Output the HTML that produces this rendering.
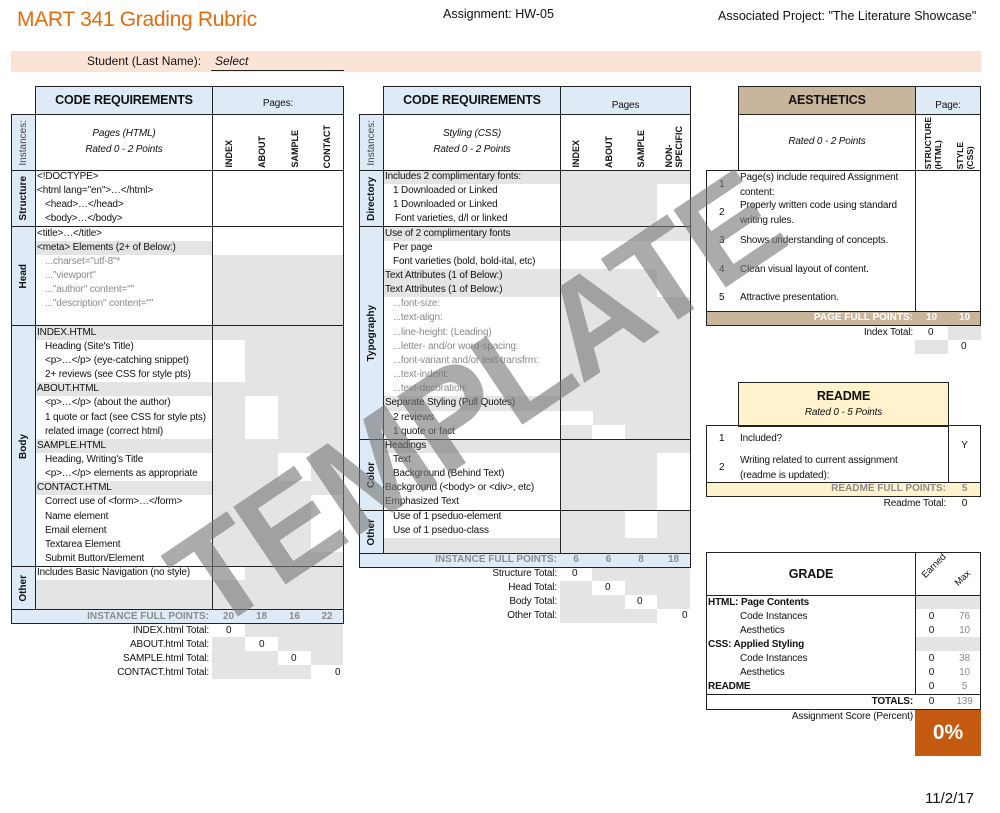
<!DOCTYPE html>
<html><head><meta charset="utf-8">
<style>
*{margin:0;padding:0;box-sizing:border-box}
body{width:1000px;height:813px;position:relative;background:#fff;font-family:"Liberation Sans",sans-serif;color:#111;overflow:hidden}
div{position:absolute}
.t{font-size:10px;line-height:14px;white-space:nowrap;letter-spacing:-0.15px}
.gr{color:#8a8a8a}
.g{background:#e4e4e4}
.w{background:#fff}
.bx{border:1.6px solid #222}
.lb{background:#deebf7}
.vt{display:flex;align-items:center;justify-content:center}
.vt span{writing-mode:vertical-rl;transform:rotate(180deg);font-size:10px;font-weight:bold;white-space:nowrap}
.vh{display:flex;align-items:flex-end;justify-content:center}
.vh span{writing-mode:vertical-rl;transform:rotate(180deg);font-size:9px;font-weight:bold;white-space:nowrap;line-height:10px}
.c{text-align:center}
.r{text-align:right}
.b{font-weight:bold}
.i{font-style:italic}
.fp{font-size:10px;line-height:14px;color:#8c8c8c;font-weight:bold}
</style></head><body>

<!-- Header -->
<div style="left:17px;top:8px;font-size:21px;color:#e46c0a;letter-spacing:-0.3px">MART 341 Grading Rubric</div>
<div style="left:443px;top:7px;font-size:12.5px">Assignment: HW-05</div>
<div style="left:718px;top:9px;font-size:12.5px">Associated Project: "The Literature Showcase"</div>
<div style="left:11px;top:51px;width:970px;height:21px;background:#fbe4d6"></div>
<div style="left:87px;top:54px;font-size:12px">Student (Last Name):</div>
<div style="left:211px;top:54px;width:133px;height:17px;border-bottom:1.5px solid #222;font-size:12px;font-style:italic;padding-left:4px">Select</div>

<!-- ===== LEFT TABLE ===== -->
<div class="g" style="left:35px;top:241px;width:177px;height:14px"></div>
<div class="g" style="left:35px;top:326px;width:177px;height:14px"></div>
<div class="g" style="left:35px;top:382px;width:177px;height:14px"></div>
<div class="g" style="left:35px;top:439px;width:177px;height:14px"></div>
<div class="g" style="left:35px;top:481px;width:177px;height:14px"></div>
<div class="g" style="left:35px;top:580px;width:177px;height:29px"></div>
<div class="g" style="left:212px;top:255px;width:131px;height:71px"></div>
<div class="g" style="left:212px;top:326px;width:131px;height:283px"></div>
<div class="w" style="left:212px;top:340px;width:33px;height:42px"></div>
<div class="w" style="left:245px;top:396px;width:33px;height:43px"></div>
<div class="w" style="left:278px;top:453px;width:33px;height:28px"></div>
<div class="w" style="left:311px;top:495px;width:32px;height:57px"></div>
<div class="w" style="left:212px;top:566px;width:33px;height:14px"></div>
<div class="g" style="left:245px;top:623px;width:98px;height:14px"></div>
<div class="g" style="left:212px;top:637px;width:33px;height:14px"></div>
<div class="g" style="left:278px;top:637px;width:65px;height:14px"></div>
<div class="g" style="left:212px;top:651px;width:66px;height:14px"></div>
<div class="g" style="left:311px;top:651px;width:32px;height:14px"></div>
<div class="g" style="left:212px;top:665px;width:99px;height:14px"></div>

<div class="bx lb" style="left:35px;top:86px;width:178px;height:29px"></div>
<div class="t b c" style="left:35px;top:92px;width:178px;font-size:12.5px;line-height:16px">CODE REQUIREMENTS</div>
<div class="bx lb" style="left:212px;top:86px;width:132px;height:29px"></div>
<div class="t c" style="left:212px;top:97px;width:132px">Pages:</div>
<div class="bx lb vt" style="left:11px;top:114px;width:25px;height:57px"><span style="font-weight:normal;color:#444">Instances:</span></div>
<div class="bx" style="left:35px;top:114px;width:178px;height:57px"></div>
<div class="t i c" style="left:35px;top:127px;width:178px">Pages (HTML)</div>
<div class="t i c" style="left:35px;top:143px;width:178px">Rated 0 - 2 Points</div>
<div class="bx" style="left:212px;top:114px;width:132px;height:57px"></div>
<div class="vh" style="left:212px;top:118px;width:33px;height:50px"><span>INDEX</span></div>
<div class="vh" style="left:245px;top:118px;width:33px;height:50px"><span>ABOUT</span></div>
<div class="vh" style="left:278px;top:118px;width:33px;height:50px"><span>SAMPLE</span></div>
<div class="vh" style="left:311px;top:118px;width:32px;height:50px"><span>CONTACT</span></div>

<div class="bx lb vt" style="left:11px;top:170px;width:25px;height:57px"><span>Structure</span></div>
<div class="bx" style="left:35px;top:170px;width:178px;height:57px"></div>
<div class="bx" style="left:212px;top:170px;width:132px;height:57px"></div>
<div class="bx lb vt" style="left:11px;top:226px;width:25px;height:100px"><span>Head</span></div>
<div class="bx" style="left:35px;top:226px;width:178px;height:100px"></div>
<div class="bx" style="left:212px;top:226px;width:132px;height:100px"></div>
<div class="bx lb vt" style="left:11px;top:325px;width:25px;height:242px"><span>Body</span></div>
<div class="bx" style="left:35px;top:325px;width:178px;height:242px"></div>
<div class="bx" style="left:212px;top:325px;width:132px;height:242px"></div>
<div class="bx lb vt" style="left:11px;top:566px;width:25px;height:44px"><span>Other</span></div>
<div class="bx" style="left:35px;top:566px;width:178px;height:44px"></div>
<div class="bx" style="left:212px;top:566px;width:132px;height:44px"></div>
<div class="bx lb" style="left:11px;top:609px;width:333px;height:15px"></div>

<div class="t" style="left:37px;top:170px">&lt;!DOCTYPE&gt;</div>
<div class="t" style="left:37px;top:184px">&lt;html lang="en"&gt;…&lt;/html&gt;</div>
<div class="t" style="left:45px;top:198px">&lt;head&gt;…&lt;/head&gt;</div>
<div class="t" style="left:45px;top:212px">&lt;body&gt;…&lt;/body&gt;</div>
<div class="t" style="left:37px;top:227px">&lt;title&gt;…&lt;/title&gt;</div>
<div class="t" style="left:37px;top:241px">&lt;meta&gt; Elements (2+ of Below:)</div>
<div class="t gr" style="left:45px;top:255px">...charset="utf-8"*</div>
<div class="t gr" style="left:45px;top:269px">..."viewport"</div>
<div class="t gr" style="left:45px;top:283px">..."author" content=""</div>
<div class="t gr" style="left:45px;top:297px">..."description" content=""</div>
<div class="t" style="left:37px;top:326px">INDEX.HTML</div>
<div class="t" style="left:45px;top:340px">Heading (Site's Title)</div>
<div class="t" style="left:45px;top:354px">&lt;p&gt;…&lt;/p&gt; (eye-catching snippet)</div>
<div class="t" style="left:45px;top:368px">2+ reviews (see CSS for style pts)</div>
<div class="t" style="left:37px;top:382px">ABOUT.HTML</div>
<div class="t" style="left:45px;top:396px">&lt;p&gt;…&lt;/p&gt; (about the author)</div>
<div class="t" style="left:45px;top:411px">1 quote or fact (see CSS for style pts)</div>
<div class="t" style="left:45px;top:425px">related image (correct html)</div>
<div class="t" style="left:37px;top:439px">SAMPLE.HTML</div>
<div class="t" style="left:45px;top:453px">Heading, Writing's Title</div>
<div class="t" style="left:45px;top:467px">&lt;p&gt;…&lt;/p&gt; elements as appropriate</div>
<div class="t" style="left:37px;top:481px">CONTACT.HTML</div>
<div class="t" style="left:45px;top:495px">Correct use of &lt;form&gt;…&lt;/form&gt;</div>
<div class="t" style="left:45px;top:510px">Name element</div>
<div class="t" style="left:45px;top:524px">Email element</div>
<div class="t" style="left:45px;top:538px">Textarea Element</div>
<div class="t" style="left:45px;top:552px">Submit Button/Element</div>
<div class="t" style="left:37px;top:566px">Includes Basic Navigation (no style)</div>
<div class="fp r" style="left:35px;top:610px;width:174px">INSTANCE FULL POINTS:</div>
<div class="fp c" style="left:212px;top:610px;width:33px">20</div>
<div class="fp c" style="left:245px;top:610px;width:33px">18</div>
<div class="fp c" style="left:278px;top:610px;width:33px">16</div>
<div class="fp c" style="left:311px;top:610px;width:32px">22</div>
<div class="t r" style="left:35px;top:624px;width:174px">INDEX.html Total:</div>
<div class="t r" style="left:35px;top:638px;width:174px">ABOUT.html Total:</div>
<div class="t r" style="left:35px;top:652px;width:174px">SAMPLE.html Total:</div>
<div class="t r" style="left:35px;top:666px;width:174px">CONTACT.html Total:</div>
<div class="t" style="left:226px;top:624px">0</div>
<div class="t" style="left:259px;top:638px">0</div>
<div class="t" style="left:291px;top:652px">0</div>
<div class="t" style="left:335px;top:666px">0</div>

<!-- ===== MIDDLE TABLE ===== -->
<div class="g" style="left:383px;top:170px;width:177px;height:14px"></div>
<div class="g" style="left:383px;top:227px;width:177px;height:14px"></div>
<div class="g" style="left:383px;top:269px;width:177px;height:28px"></div>
<div class="g" style="left:383px;top:396px;width:177px;height:15px"></div>
<div class="g" style="left:383px;top:439px;width:177px;height:14px"></div>
<div class="g" style="left:383px;top:538px;width:177px;height:15px"></div>
<div class="g" style="left:560px;top:170px;width:130px;height:383px"></div>
<div class="w" style="left:657px;top:184px;width:33px;height:43px"></div>
<div class="w" style="left:560px;top:241px;width:130px;height:28px"></div>
<div class="w" style="left:657px;top:269px;width:33px;height:28px"></div>
<div class="w" style="left:560px;top:411px;width:33px;height:14px"></div>
<div class="w" style="left:592px;top:425px;width:33px;height:14px"></div>
<div class="w" style="left:657px;top:453px;width:33px;height:57px"></div>
<div class="w" style="left:625px;top:510px;width:32px;height:28px"></div>
<div class="g" style="left:592px;top:567px;width:98px;height:14px"></div>
<div class="g" style="left:560px;top:581px;width:32px;height:14px"></div>
<div class="g" style="left:625px;top:581px;width:65px;height:14px"></div>
<div class="g" style="left:560px;top:595px;width:65px;height:14px"></div>
<div class="g" style="left:657px;top:595px;width:33px;height:14px"></div>
<div class="g" style="left:560px;top:609px;width:97px;height:14px"></div>

<div class="bx lb" style="left:383px;top:86px;width:178px;height:29px"></div>
<div class="t b c" style="left:383px;top:92px;width:178px;font-size:12.5px;line-height:16px">CODE REQUIREMENTS</div>
<div class="bx lb" style="left:560px;top:86px;width:131px;height:29px"></div>
<div class="t c" style="left:560px;top:99px;width:131px">Pages</div>
<div class="bx lb vt" style="left:359px;top:114px;width:25px;height:57px"><span style="font-weight:normal;color:#444">Instances:</span></div>
<div class="bx" style="left:383px;top:114px;width:178px;height:57px"></div>
<div class="t i c" style="left:383px;top:127px;width:178px">Styling (CSS)</div>
<div class="t i c" style="left:383px;top:143px;width:178px">Rated 0 - 2 Points</div>
<div class="bx" style="left:560px;top:114px;width:131px;height:57px"></div>
<div class="vh" style="left:560px;top:118px;width:32px;height:50px"><span>INDEX</span></div>
<div class="vh" style="left:592px;top:118px;width:33px;height:50px"><span>ABOUT</span></div>
<div class="vh" style="left:625px;top:118px;width:32px;height:50px"><span>SAMPLE</span></div>
<div class="vh" style="left:657px;top:118px;width:33px;height:50px"><span style="text-align:left">NON-<br>SPECIFIC</span></div>

<div class="bx lb vt" style="left:359px;top:170px;width:25px;height:57px"><span>Directory</span></div>
<div class="bx" style="left:383px;top:170px;width:178px;height:57px"></div>
<div class="bx" style="left:560px;top:170px;width:131px;height:57px"></div>
<div class="bx lb vt" style="left:359px;top:226px;width:25px;height:214px"><span>Typography</span></div>
<div class="bx" style="left:383px;top:226px;width:178px;height:214px"></div>
<div class="bx" style="left:560px;top:226px;width:131px;height:214px"></div>
<div class="bx lb vt" style="left:359px;top:439px;width:25px;height:72px"><span>Color</span></div>
<div class="bx" style="left:383px;top:439px;width:178px;height:72px"></div>
<div class="bx" style="left:560px;top:439px;width:131px;height:72px"></div>
<div class="bx lb vt" style="left:359px;top:510px;width:25px;height:44px"><span>Other</span></div>
<div class="bx" style="left:383px;top:510px;width:178px;height:44px"></div>
<div class="bx" style="left:560px;top:510px;width:131px;height:44px"></div>
<div class="bx lb" style="left:359px;top:553px;width:332px;height:15px"></div>

<div class="t" style="left:385px;top:170px">Includes 2 complimentary fonts:</div>
<div class="t" style="left:393px;top:184px">1 Downloaded or Linked</div>
<div class="t" style="left:393px;top:198px">1 Downloaded or Linked</div>
<div class="t" style="left:395px;top:212px">Font varieties, d/l or linked</div>
<div class="t" style="left:385px;top:227px">Use of 2 complimentary fonts</div>
<div class="t" style="left:393px;top:241px">Per page</div>
<div class="t" style="left:393px;top:255px">Font varieties (bold, bold-ital, etc)</div>
<div class="t" style="left:385px;top:269px">Text Attributes (1 of Below:)</div>
<div class="t" style="left:385px;top:283px">Text Attributes (1 of Below:)</div>
<div class="t gr" style="left:393px;top:297px">...font-size:</div>
<div class="t gr" style="left:393px;top:311px">...text-align:</div>
<div class="t gr" style="left:393px;top:326px">...line-height: (Leading)</div>
<div class="t gr" style="left:393px;top:340px">...letter- and/or word-spacing:</div>
<div class="t gr" style="left:393px;top:354px">...font-variant and/or text-transfrm:</div>
<div class="t gr" style="left:393px;top:368px">...text-indent:</div>
<div class="t gr" style="left:393px;top:382px">...text-decoration:</div>
<div class="t" style="left:385px;top:396px">Separate Styling (Pull Quotes)</div>
<div class="t" style="left:393px;top:411px">2 reviews</div>
<div class="t" style="left:393px;top:425px">1 quote or fact</div>
<div class="t" style="left:385px;top:439px">Headings</div>
<div class="t" style="left:393px;top:453px">Text</div>
<div class="t" style="left:393px;top:467px">Background (Behind Text)</div>
<div class="t" style="left:385px;top:481px">Background (&lt;body&gt; or &lt;div&gt;, etc)</div>
<div class="t" style="left:385px;top:495px">Emphasized Text</div>
<div class="t" style="left:393px;top:510px">Use of 1 pseduo-element</div>
<div class="t" style="left:393px;top:524px">Use of 1 pseduo-class</div>
<div class="fp r" style="left:383px;top:553px;width:174px">INSTANCE FULL POINTS:</div>
<div class="fp c" style="left:560px;top:553px;width:32px">6</div>
<div class="fp c" style="left:592px;top:553px;width:33px">6</div>
<div class="fp c" style="left:625px;top:553px;width:32px">8</div>
<div class="fp c" style="left:657px;top:553px;width:33px">18</div>
<div class="t r" style="left:383px;top:567px;width:174px">Structure Total:</div>
<div class="t r" style="left:383px;top:581px;width:174px">Head Total:</div>
<div class="t r" style="left:383px;top:595px;width:174px">Body Total:</div>
<div class="t r" style="left:383px;top:609px;width:174px">Other Total:</div>
<div class="t" style="left:572px;top:567px">0</div>
<div class="t" style="left:605px;top:581px">0</div>
<div class="t" style="left:637px;top:595px">0</div>
<div class="t" style="left:682px;top:609px">0</div>

<!-- ===== AESTHETICS ===== -->
<div class="bx" style="left:738px;top:86px;width:178px;height:29px;background:#c9b59c"></div>
<div class="t b c" style="left:738px;top:92px;width:178px;font-size:12.5px;line-height:16px">AESTHETICS</div>
<div class="bx lb" style="left:915px;top:86px;width:66px;height:29px"></div>
<div class="t c" style="left:915px;top:99px;width:66px">Page:</div>
<div class="bx" style="left:738px;top:114px;width:178px;height:57px"></div>
<div class="t i c" style="left:738px;top:135px;width:178px">Rated 0 - 2 Points</div>
<div class="bx" style="left:915px;top:114px;width:66px;height:57px"></div>
<div class="vh" style="left:916px;top:116px;width:33px;height:53px"><span style="font-size:8.5px;text-align:left">STRUCTURE<br>(HTML)</span></div>
<div class="vh" style="left:948px;top:116px;width:33px;height:53px"><span style="font-size:8.5px;text-align:left">STYLE<br>(CSS)</span></div>
<div class="bx" style="left:706px;top:170px;width:210px;height:142px"></div>
<div class="bx" style="left:915px;top:170px;width:66px;height:142px"></div>
<div class="t" style="left:719px;top:178px">1</div>
<div class="t" style="left:740px;top:171px">Page(s) include required Assignment</div>
<div class="t" style="left:740px;top:186px">content:</div>
<div class="t" style="left:719px;top:206px">2</div>
<div class="t" style="left:740px;top:199px">Properly written code using standard</div>
<div class="t" style="left:740px;top:214px">writing rules.</div>
<div class="t" style="left:719px;top:234px">3</div>
<div class="t" style="left:740px;top:234px">Shows understanding of concepts.</div>
<div class="t" style="left:719px;top:263px">4</div>
<div class="t" style="left:740px;top:263px">Clean visual layout of content.</div>
<div class="t" style="left:719px;top:291px">5</div>
<div class="t" style="left:740px;top:291px">Attractive presentation.</div>
<div class="bx" style="left:706px;top:311px;width:275px;height:15px;background:#c9b59c"></div>
<div class="fp r" style="left:706px;top:311px;width:207px;color:#fff">PAGE FULL POINTS:</div>
<div class="fp c" style="left:915px;top:311px;width:33px;color:#fff">10</div>
<div class="fp c" style="left:948px;top:311px;width:33px;color:#fff">10</div>
<div class="t r" style="left:740px;top:326px;width:173px">Index Total:</div>
<div class="t" style="left:928px;top:326px">0</div>
<div class="g" style="left:948px;top:326px;width:33px;height:14px"></div>
<div class="g" style="left:915px;top:340px;width:33px;height:14px"></div>
<div class="t" style="left:961px;top:340px">0</div>

<!-- ===== README ===== -->
<div class="bx" style="left:738px;top:382px;width:211px;height:45px;background:#fff2cc"></div>
<div class="t b c" style="left:738px;top:388px;width:211px;font-size:12.5px;line-height:16px">README</div>
<div class="t i c" style="left:738px;top:406px;width:211px">Rated 0 - 5 Points</div>
<div class="bx" style="left:706px;top:425px;width:243px;height:58px"></div>
<div class="bx" style="left:948px;top:425px;width:33px;height:58px"></div>
<div class="t" style="left:719px;top:432px">1</div>
<div class="t" style="left:740px;top:432px">Included?</div>
<div class="t c" style="left:948px;top:439px;width:33px">Y</div>
<div class="t" style="left:719px;top:461px">2</div>
<div class="t" style="left:740px;top:454px">Writing related to current assignment</div>
<div class="t" style="left:740px;top:469px">(readme is updated):</div>
<div class="bx" style="left:706px;top:482px;width:275px;height:15px;background:#fff2cc"></div>
<div class="fp r" style="left:706px;top:482px;width:240px">README FULL POINTS:</div>
<div class="fp c" style="left:948px;top:482px;width:33px">5</div>
<div class="t r" style="left:740px;top:497px;width:206px">Readme Total:</div>
<div class="t c" style="left:948px;top:497px;width:33px">0</div>

<!-- ===== GRADE ===== -->
<div class="g" style="left:915px;top:595px;width:66px;height:14px"></div>
<div class="g" style="left:915px;top:637px;width:66px;height:14px"></div>
<div class="bx" style="left:706px;top:552px;width:210px;height:44px"></div>
<div class="bx" style="left:915px;top:552px;width:66px;height:44px"></div>
<div class="t b c" style="left:706px;top:566px;width:210px;font-size:12.5px;line-height:16px">GRADE</div>
<div class="t" style="left:919px;top:572px;font-size:9.5px;transform:rotate(-45deg);transform-origin:left top">Earned</div>
<div class="t" style="left:952px;top:580px;font-size:9.5px;transform:rotate(-45deg);transform-origin:left top">Max</div>
<div class="bx" style="left:706px;top:595px;width:210px;height:100px"></div>
<div class="bx" style="left:915px;top:595px;width:66px;height:100px"></div>
<div class="t b" style="left:708px;top:596px">HTML: Page Contents</div>
<div class="t" style="left:740px;top:610px">Code Instances</div>
<div class="t" style="left:740px;top:624px">Aesthetics</div>
<div class="t b" style="left:708px;top:638px">CSS: Applied Styling</div>
<div class="t" style="left:740px;top:652px">Code Instances</div>
<div class="t" style="left:740px;top:666px">Aesthetics</div>
<div class="t b" style="left:708px;top:680px">README</div>
<div class="t c" style="left:915px;top:610px;width:33px">0</div>
<div class="t c gr" style="left:948px;top:610px;width:33px">76</div>
<div class="t c" style="left:915px;top:624px;width:33px">0</div>
<div class="t c gr" style="left:948px;top:624px;width:33px">10</div>
<div class="t c" style="left:915px;top:652px;width:33px">0</div>
<div class="t c gr" style="left:948px;top:652px;width:33px">38</div>
<div class="t c" style="left:915px;top:666px;width:33px">0</div>
<div class="t c gr" style="left:948px;top:666px;width:33px">10</div>
<div class="t c" style="left:915px;top:680px;width:33px">0</div>
<div class="t c gr" style="left:948px;top:680px;width:33px">5</div>
<div class="bx" style="left:706px;top:694px;width:275px;height:16px"></div>
<div class="t b r" style="left:706px;top:695px;width:207px">TOTALS:</div>
<div class="t c" style="left:915px;top:695px;width:33px">0</div>
<div class="t c gr" style="left:948px;top:695px;width:33px">139</div>
<div class="t r" style="left:740px;top:710px;width:173px">Assignment Score (Percent)</div>
<div style="left:915px;top:710px;width:66px;height:46px;background:#c55a11;color:#fff;font-size:21px;font-weight:bold;text-align:center;line-height:46px">0%</div>

<div style="left:925px;top:790px;font-size:15px">11/2/17</div>

<!-- watermark -->
<div style="left:115px;top:330px;width:720px;text-align:center;font-size:136px;font-weight:bold;line-height:140px;color:rgba(120,120,120,0.62);transform:rotate(-34deg);transform-origin:center;letter-spacing:-3px">TEMPLATE</div>

</body></html>
